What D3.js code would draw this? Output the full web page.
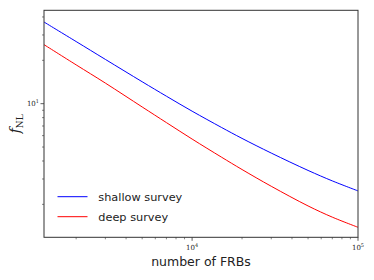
<!DOCTYPE html>
<html>
<head>
<meta charset="utf-8">
<script src="https://cdn.jsdelivr.net/npm/d3@7"></script>
<style>
html,body{margin:0;padding:0;background:#fff;}
svg{display:block;}
</style>
</head>
<body>
<svg id="chart" width="374" height="280"></svg>
<script>
// ---- data ----
const nFRB = [1280, 2000, 3000, 5000, 7000, 10000, 15000, 20000, 30000, 50000, 70000, 100000];
const shallow = [36.9, 27.0, 20.3, 14.2, 11.27, 8.87, 6.85, 5.74, 4.54, 3.44, 2.91, 2.48];
const deep    = [25.7, 18.6, 13.9, 9.49, 7.39, 5.68, 4.26, 3.49, 2.67, 1.95, 1.63, 1.386];
const seriesNames = ["shallow survey", "deep survey"];
const seriesColors = ["#0000ff", "#ff0000"];
const xMajorTicks = [1e4, 1e5];
const xTickExp = ["4", "5"];
const yMajorTicks = [10];
const yTickExp = ["1"];
const xDomain = [1280, 100000];
const yDomain = [1.181, 44.5];

const svg = d3.select("#chart");
const L = 44, R = 358, T = 10.3, B = 237.3;
const x = d3.scaleLog().domain(xDomain).range([L, R]);
const y = d3.scaleLog().domain(yDomain).range([B, T]);
const axisColor = "#333";

// minor ticks
const xMinor = x.ticks().filter(v => !xMajorTicks.includes(v) && v >= xDomain[0] && v <= xDomain[1]);
const yMinor = y.ticks().filter(v => !yMajorTicks.includes(v) && v >= yDomain[0] && v <= yDomain[1]);

const g = svg.append("g");
g.selectAll(".xmin").data(xMinor).join("line")
  .attr("x1", d => x(d)).attr("x2", d => x(d))
  .attr("y1", B).attr("y2", B + 2)
  .attr("stroke", axisColor).attr("stroke-width", 0.6);
g.selectAll(".xmaj").data(xMajorTicks).join("line")
  .attr("x1", d => x(d)).attr("x2", d => x(d))
  .attr("y1", B).attr("y2", B + 3.5)
  .attr("stroke", axisColor).attr("stroke-width", 0.8);
g.selectAll(".ymin").data(yMinor).join("line")
  .attr("y1", d => y(d)).attr("y2", d => y(d))
  .attr("x1", L).attr("x2", L - 2)
  .attr("stroke", axisColor).attr("stroke-width", 0.6);
g.selectAll(".ymaj").data(yMajorTicks).join("line")
  .attr("y1", d => y(d)).attr("y2", d => y(d))
  .attr("x1", L).attr("x2", L - 3.5)
  .attr("stroke", axisColor).attr("stroke-width", 0.8);

// tick labels
const tickFont = "'DejaVu Serif', serif";
xMajorTicks.forEach((v, i) => {
  const t = svg.append("text").attr("x", x(v)).attr("y", B + 13)
    .attr("text-anchor", "middle").attr("font-family", tickFont)
    .attr("font-size", 7).attr("fill", "#222");
  t.append("tspan").text("10");
  t.append("tspan").attr("dy", -3).attr("font-size", 5).text(xTickExp[i]);
});
yMajorTicks.forEach((v, i) => {
  const t = svg.append("text").attr("x", L - 5).attr("y", y(v) + 2.5)
    .attr("text-anchor", "end").attr("font-family", tickFont)
    .attr("font-size", 7).attr("fill", "#222");
  t.append("tspan").text("10");
  t.append("tspan").attr("dy", -3).attr("font-size", 5).text(yTickExp[i]);
});

// lines
const line = d3.line().x((d, i) => x(nFRB[i])).y(d => y(d)).curve(d3.curveCatmullRom.alpha(0.5));
svg.append("clipPath").attr("id", "clip").append("rect")
  .attr("x", L).attr("y", T).attr("width", R - L).attr("height", B - T);
[shallow, deep].forEach((s, i) => {
  svg.append("path").attr("d", line(s)).attr("fill", "none")
    .attr("stroke", seriesColors[i]).attr("stroke-width", 1)
    .attr("clip-path", "url(#clip)");
});

// frame
svg.append("rect").attr("x", L).attr("y", T).attr("width", R - L).attr("height", B - T)
  .attr("fill", "none").attr("stroke", axisColor).attr("stroke-width", 1);

// legend
const legFont = "'DejaVu Sans', sans-serif";
seriesNames.forEach((name, i) => {
  const ly = 196.7 + i * 20;
  svg.append("line").attr("x1", 57.5).attr("x2", 87.5).attr("y1", ly).attr("y2", ly)
    .attr("stroke", seriesColors[i]).attr("stroke-width", 1);
  svg.append("text").attr("x", 98.3).attr("y", ly + 4.5).attr("font-family", legFont)
    .attr("font-size", 11.3).attr("fill", "#222").text(name);
});

// axis labels
svg.append("text").attr("x", (L + R) / 2).attr("y", 266).attr("text-anchor", "middle")
  .attr("font-family", legFont).attr("font-size", 12.5).attr("fill", "#222")
  .text("number of FRBs");
const yl = svg.append("text").attr("transform", `translate(20,${(T + B) / 2}) rotate(-90)`)
  .attr("text-anchor", "middle").attr("font-family", tickFont).attr("fill", "#222");
yl.append("tspan").attr("font-size", 14).attr("font-style", "italic").text("f");
yl.append("tspan").attr("font-size", 9).attr("dy", 3).text("NL");
</script>
</body>
</html>
